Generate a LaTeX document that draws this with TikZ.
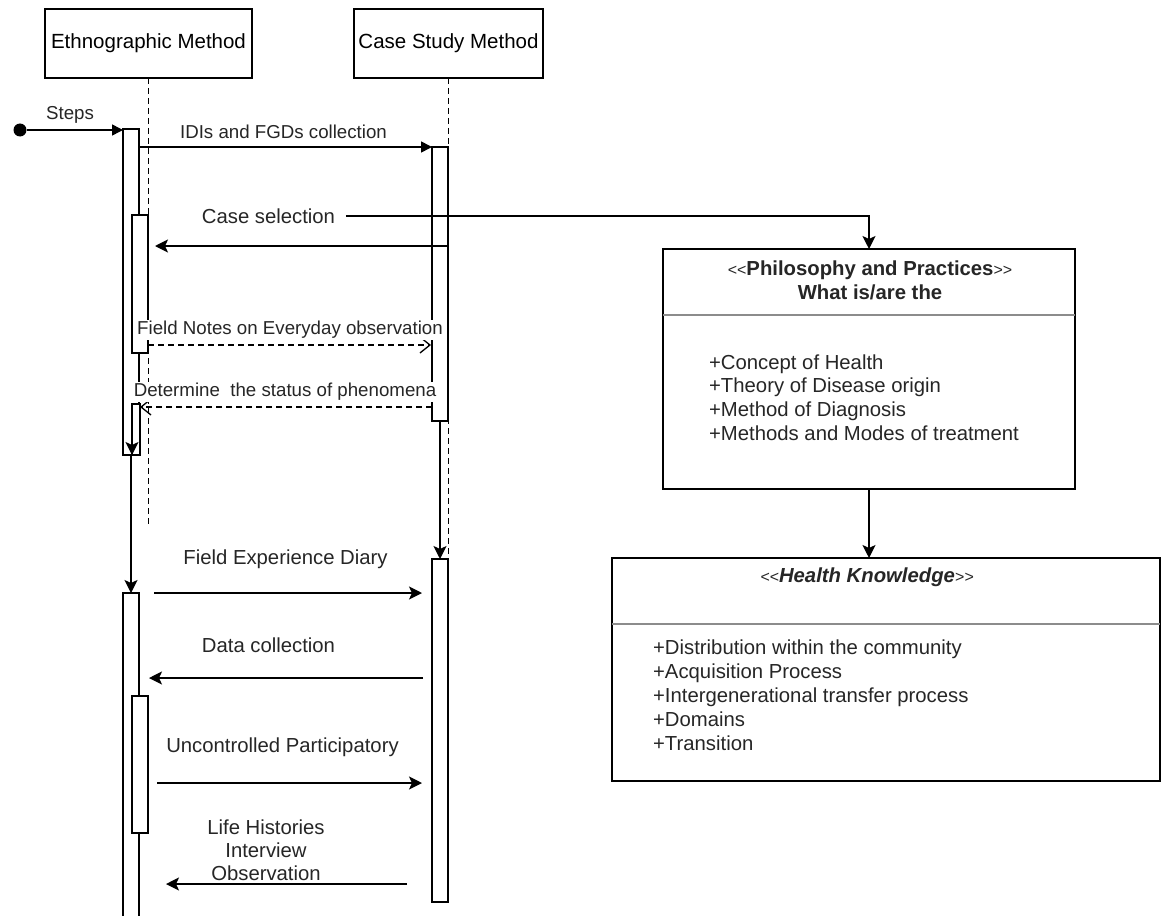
\documentclass[tikz,border=0pt]{standalone}
\usepackage{fontspec}
\setmainfont{Liberation Sans}
\usetikzlibrary{arrows.meta,calc}

\begin{document}
\begin{tikzpicture}[x=1pt,y=-1pt,line width=1.6pt,
  head/.style={draw,fill=white,minimum height=69pt,inner sep=0pt,outer sep=0pt,
    font=\fontsize{20.5}{24}\selectfont},
  bar/.style={draw,fill=white,inner sep=0pt,outer sep=0pt,anchor=north west},
  life/.style={line width=1.3pt,dash pattern=on 6pt off 4pt},
  msg/.style={-{Stealth[length=13pt,width=13pt,inset=3pt]}},
  blk/.style={-{Triangle[length=11pt,width=11pt]}},
  opn/.style={line width=1.3pt,dash pattern=on 6pt off 4pt,
    -{Straight Barb[length=10pt,width=16pt]}},
  lbl/.style={font=\fontsize{20.3}{23}\selectfont,inner sep=1pt,text=black!85},
  slbl/.style={font=\fontsize{18.7}{22}\selectfont,inner sep=1pt,text=black!85},
  classbox/.style={draw,fill=white,inner sep=0pt,outer sep=0pt},
  sep/.style={draw=black!45,line width=1.3pt}
]
\fill[white] (0,0) rectangle (1161,915);
\useasboundingbox (0,0) rectangle (1161,915);

% lifeline heads and lifelines
\node[head,minimum width=207pt] (EM) at (148.5,43.5) {Ethnographic Method};
\node[head,minimum width=189pt] (CS) at (448.5,43.5) {Case Study Method};
\draw[life] (EM.south) -- ++(0,447);
\draw[life] (CS.south) -- ++(0,482);

% class boxes
\node[classbox,minimum width=412pt,minimum height=240pt] (PP) at (869,369) {};
\draw[sep] (PP.west |- 0,315) -- (PP.east |- 0,315);
\node[align=center,font=\fontsize{20.3}{24}\selectfont,text=black!85] (PPt) at (870,280)
  {{\fontsize{16}{18}\selectfont<{}<}\textbf{Philosophy and Practices}{\fontsize{16}{18}\selectfont>{}>}\\\textbf{What is/are the}};
\node[anchor=west,align=left,font=\fontsize{20.3}{23.8}\selectfont,text=black!85] (PPi) at (705,397.5)
  {+Concept of Health\\+Theory of Disease origin\\+Method of Diagnosis\\+Methods and Modes of treatment};

\node[classbox,minimum width=548pt,minimum height=223pt] (HK) at (886,669.5) {};
\draw[sep] (HK.west |- 0,624) -- (HK.east |- 0,624);
\node[font=\fontsize{20.3}{24}\selectfont\itshape,text=black!85] (HKt) at (867,577)
  {{\fontsize{16}{18}\selectfont<{}<}\textbf{Health Knowledge}{\fontsize{16}{18}\selectfont>{}>}};
\node[anchor=west,align=left,font=\fontsize{20.3}{24}\selectfont,text=black!85] (HKi) at (649,695)
  {+Distribution within the community\\+Acquisition Process\\+Intergenerational transfer process\\+Domains\\+Transition};
\draw[msg] (PP.south) -- (PP.south |- HK.north);

% activation bars
\node[bar,minimum width=16pt,minimum height=326pt] (E1) at (123,129) {};
\node[bar,minimum width=16pt,minimum height=138pt] (E2) at (132,215) {};
\node[bar,minimum width=8pt,minimum height=51pt] (E3) at (132,404) {};
\node[bar,minimum width=16pt,minimum height=340pt] (E4) at (123,593) {};
\node[bar,minimum width=16pt,minimum height=137pt] (E5) at (132,696) {};
\node[bar,minimum width=16pt,minimum height=274pt] (C1) at (432,147) {};
\node[bar,minimum width=16pt,minimum height=343pt] (C2) at (432,559) {};

% start of the steps
\node[circle,fill=black,inner sep=0pt,minimum size=13pt] (start) at (20,130) {};
\draw[blk] (start) -- (start -| E1.west);
\node[slbl] (steps) at (70,115) {Steps};

% messages
\draw[blk] (C1.north west -| E1.east) -- (C1.north west);
\node[slbl] (m1) at (283.5,132) {IDIs and FGDs collection};

\node[lbl,fill=white,inner xsep=10pt] (m2) at (268.5,216) {Case selection};
\draw[msg] (m2.east) -- (m2.east -| PP.north) -- (PP.north);
\draw[msg] (C1.east |- 0,246) -- ($(E2.east |- 0,246)+(7,0)$);

\draw[opn] (E2.east |- 0,345) -- ($(C1.west |- 0,345)+(-1,0)$);
\node[slbl,fill=white] (m3) at (290,330) {Field Notes on Everyday observation};
\draw[opn] (C1.west |- 0,407) -- (E3.east |- 0,407);
\node[slbl,fill=white] (m4) at (285,392) {Determine\ \ the status of phenomena};

\draw[msg] (E3.north west) -- (E3.south west);
\draw[msg] (E1.south) -- (E4.north);
\draw[msg] (C1.south) -- (C2.north);

\draw[msg] ($(E4.east |- 0,593)+(15,0)$) -- ($(C2.west |- 0,593)+(-10,0)$);
\node[lbl] (m5) at (285.5,559) {Field Experience Diary};
\draw[msg] ($(C2.west |- 0,678)+(-9,0)$) -- ($(E4.east |- 0,678)+(10,0)$);
\node[lbl] (m6) at (268.5,645) {Data collection};
\draw[msg] ($(E5.east |- 0,783)+(9,0)$) -- ($(C2.west |- 0,783)+(-10,0)$);
\node[lbl] (m7) at (282.5,747) {Uncontrolled Participatory};
\draw[msg] ($(C2.west |- 0,884)+(-25,0)$) -- ($(E4.east |- 0,884)+(27,0)$);
\node[lbl,align=center] (m8) at (266,850) {Life Histories\\Interview\\Observation};
\end{tikzpicture}
\end{document}
